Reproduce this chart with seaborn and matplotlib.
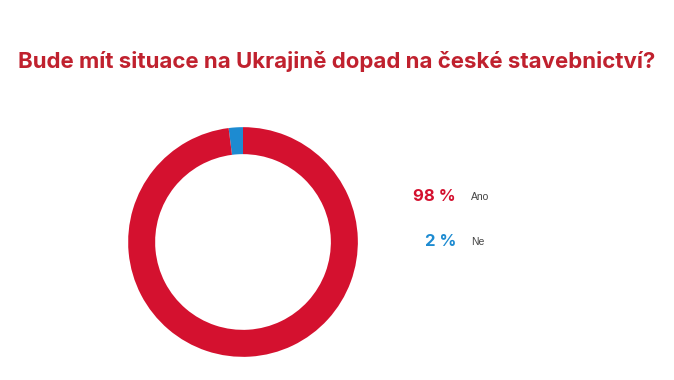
import matplotlib
matplotlib.use("Agg")
from matplotlib import pyplot as plt
import seaborn as sb

labels = ["Ne", "Ano"]
values = [2, 98]
colors = ["#1D8BD1", "#D4112F"]
title = "Bude mít situace na Ukrajině dopad na české stavebnictví?"

sb.set_theme(style="white")
plt.rcParams["font.family"] = ["Inter", "DejaVu Sans"]

fig = plt.figure(figsize=(6.74, 3.80), dpi=100)
fig.patch.set_facecolor("white")

# donut
ax = fig.add_axes([(243 - 116) / 674, 1 - (242 + 116) / 380, 232 / 674, 232 / 380])
ax.pie(values, colors=colors, startangle=90, counterclock=True,
       wedgeprops=dict(width=0.235, linewidth=0))
ax.set_xlim(-1.01, 1.01)
ax.set_ylim(-1.01, 1.01)
ax.set_aspect("equal")
ax.axis("off")

fig.text(0.5, 1 - 62 / 380, title, ha="center", va="center",
         fontsize=16, fontweight="bold", color="#C0212E")

# legend, biggest share first
legend_y = [197, 242]
for (lab, val, col), y in zip(list(zip(labels, values, colors))[::-1], legend_y):
    fig.text(456 / 674, 1 - y / 380, f"{val} %", ha="right", va="center",
             fontsize=12, fontweight="bold", color=col)
    fig.text(471 / 674, 1 - y / 380, lab, ha="left", va="center",
             fontsize=7.5, color="#444444", family=["Liberation Sans"])

fig.savefig("out.png", dpi=100)
